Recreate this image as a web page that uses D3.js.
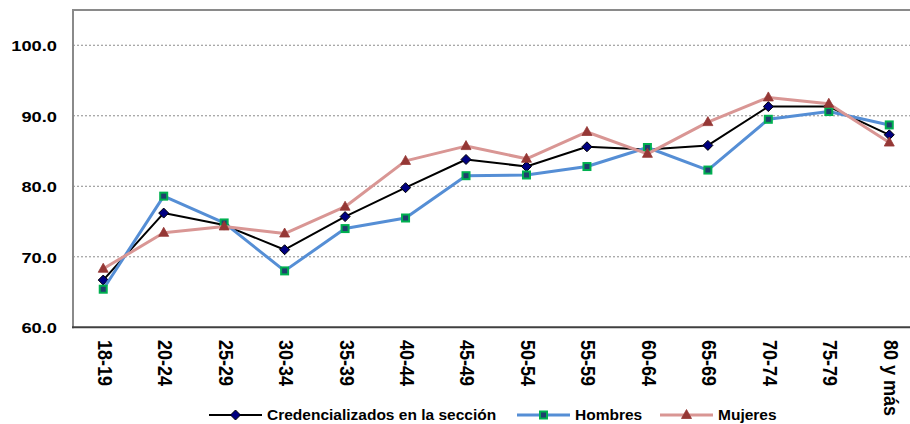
<!DOCTYPE html>
<html>
<head>
<meta charset="utf-8">
<script src="https://cdn.jsdelivr.net/npm/d3@7"></script>
<style>
  body { margin: 0; background: #fff; }
  svg { display: block; font-family: "Liberation Sans", Arial, sans-serif; font-weight: bold; }
</style>
</head>
<body>
<svg id="chart" width="910" height="424"></svg>
<script>
// age groups on the x axis
const grupos = ["18-19", "20-24", "25-29", "30-34", "35-39", "40-44", "45-49",
                "50-54", "55-59", "60-64", "65-69", "70-74", "75-79", "80 y más"];

// values
const credencializados = [66.7, 76.2, 74.5, 71.0, 75.7, 79.8, 83.8, 82.8, 85.6, 85.2, 85.8, 91.3, 91.3, 87.3];
const hombres          = [65.4, 78.6, 74.8, 68.0, 74.0, 75.5, 81.5, 81.6, 82.8, 85.5, 82.3, 89.5, 90.6, 88.7];
const mujeres          = [68.3, 73.4, 74.3, 73.3, 77.1, 83.6, 85.7, 83.9, 87.7, 84.6, 89.1, 92.6, 91.7, 86.2];

const yTicks = [60, 70, 80, 90, 100];

const svg = d3.select("#chart");
const plotLeft = 73, plotRight = 919.5, plotTop = 10, plotBottom = 327.3;

const x = d3.scaleBand().domain(grupos).range([plotLeft, plotRight]);
const y = d3.scaleLinear().domain([60, 105]).range([plotBottom, plotTop]);

// grid
svg.append("g")
    .selectAll("line")
    .data(yTicks.filter(d => d > 60))
    .join("line")
    .attr("x1", plotLeft).attr("x2", plotRight)
    .attr("y1", d => y(d)).attr("y2", d => y(d))
    .attr("stroke", "#8c8c8c")
    .attr("stroke-width", 1)
    .attr("stroke-dasharray", "2,2");

// frame
svg.append("line").attr("x1", plotLeft).attr("x2", plotRight).attr("y1", plotTop).attr("y2", plotTop)
    .attr("stroke", "#8a8a8a").attr("stroke-width", 2);
svg.append("line").attr("x1", plotLeft).attr("x2", plotLeft).attr("y1", plotTop - 1).attr("y2", plotBottom + 1)
    .attr("stroke", "#8a8a8a").attr("stroke-width", 2);
svg.append("line").attr("x1", plotLeft - 1).attr("x2", plotRight).attr("y1", plotBottom).attr("y2", plotBottom)
    .attr("stroke", "#404040").attr("stroke-width", 2);

// y labels (slightly wide, like the original)
svg.append("g")
    .selectAll("text")
    .data(yTicks)
    .join("text")
    .attr("transform", d => `translate(57,${y(d) + 2}) scale(1.18,1)`)
    .attr("text-anchor", "end")
    .attr("dominant-baseline", "middle")
    .attr("font-size", 15.5)
    .attr("fill", "#000")
    .text(d => d.toFixed(1));

// x labels, rotated
svg.append("g")
    .selectAll("text")
    .data(grupos)
    .join("text")
    .attr("transform", d => `translate(${x(d) + x.bandwidth() / 2},340) scale(1.16,1) rotate(90)`)
    .attr("text-anchor", "start")
    .attr("dominant-baseline", "middle")
    .attr("font-size", 18)
    .attr("fill", "#000")
    .text(d => d);

const series = [
  { name: "Credencializados en la sección", values: credencializados, color: "#000000", width: 2, marker: "diamond" },
  { name: "Hombres", values: hombres, color: "#558ed5", width: 3, marker: "square" },
  { name: "Mujeres", values: mujeres, color: "#d99694", width: 3, marker: "triangle" }
];

function drawMarker(g, type, cx, cy) {
  if (type === "diamond") {
    g.append("path")
      .attr("d", `M${cx},${cy - 5}L${cx + 5},${cy}L${cx},${cy + 5}L${cx - 5},${cy}Z`)
      .attr("fill", "#000080").attr("stroke", "#000").attr("stroke-width", 1);
  } else if (type === "square") {
    g.append("rect")
      .attr("x", cx - 3.5).attr("y", cy - 3.5).attr("width", 7).attr("height", 7)
      .attr("fill", "#1f3f6e").attr("stroke", "#00b050").attr("stroke-width", 2);
  } else {
    g.append("path")
      .attr("d", `M${cx},${cy - 5.5}L${cx + 5},${cy + 3.5}L${cx - 5},${cy + 3.5}Z`)
      .attr("fill", "#953735").attr("stroke", "#953735").attr("stroke-width", 0.8);
  }
}

const line = d3.line()
    .x((d, i) => x(grupos[i]) + x.bandwidth() / 2)
    .y(d => y(d));

series.forEach(s => {
  const g = svg.append("g");
  g.append("path")
    .datum(s.values)
    .attr("d", line)
    .attr("fill", "none")
    .attr("stroke", s.color)
    .attr("stroke-width", s.width)
    .attr("stroke-linejoin", "round");
  s.values.forEach((v, i) => drawMarker(g, s.marker, x(grupos[i]) + x.bandwidth() / 2, y(v)));
});

// legend
const legendPos = [209, 517, 660];
const legendY = 415;
series.forEach((s, i) => {
  const g = svg.append("g");
  const x0 = legendPos[i];
  g.append("line")
    .attr("x1", x0).attr("x2", x0 + 53)
    .attr("y1", legendY).attr("y2", legendY)
    .attr("stroke", s.color).attr("stroke-width", s.width);
  drawMarker(g, s.marker, x0 + 26.5, legendY);
  g.append("text")
    .attr("x", x0 + 58)
    .attr("y", legendY + 1)
    .attr("dominant-baseline", "middle")
    .attr("font-size", 15.5)
    .attr("fill", "#000")
    .text(s.name);
});
</script>
</body>
</html>
